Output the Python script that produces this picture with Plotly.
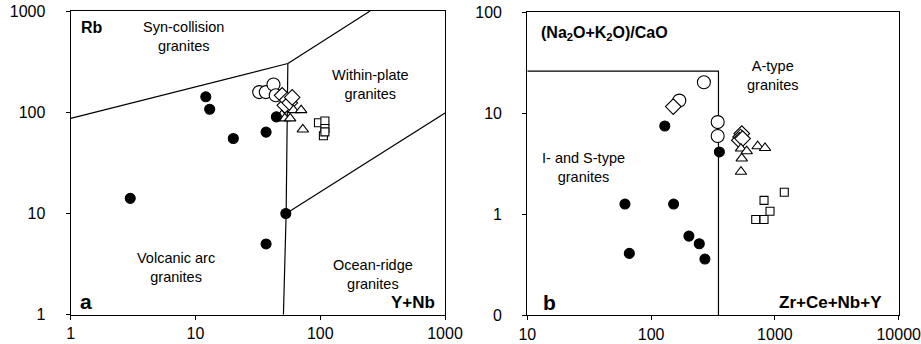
import plotly.graph_objects as go

# ---- Panel a: Rb vs Y+Nb ----
a_filled_x = [12.1, 13.0, 20.1, 36.8, 44.5, 3.0, 36.8, 53.0]
a_filled_y = [142, 107, 55, 63.6, 90, 14.1, 5.0, 10.0]
a_circle_x = [32.4, 36.6, 42.2, 44.0]
a_circle_y = [158, 158, 188, 147]
a_diamond_x = [49.5, 52.0, 54.3, 57.0, 59.6]
a_diamond_y = [147, 117, 132, 124, 140]
a_tri_x = [49.2, 52.0, 57.4, 61.0, 70.3, 72.5]
a_tri_y = [93.6, 86.9, 86.9, 105, 105, 67.6]
a_sq_x = [96.8, 109, 109, 106, 109]
a_sq_y = [78.6, 82, 69, 58.5, 64]

# discrimination boundaries (panel a)
a_b1_x = [1, 55]; a_b1_y = [87, 303]
a_b2_x = [55, 251]; a_b2_y = [303, 1000]
a_b3_x = [55, 53.3, 50.7]; a_b3_y = [303, 10, 1]
a_b4_x = [53.3, 1000]; a_b4_y = [10, 98]

# ---- Panel b: (Na2O+K2O)/CaO vs Zr+Ce+Nb+Y ----
b_filled_x = [129, 356, 61.5, 66.7, 152, 202, 245, 272]
b_filled_y = [7.45, 4.13, 1.26, 0.41, 1.26, 0.607, 0.51, 0.36]
b_circle_x = [267, 169, 345, 345]
b_circle_y = [20.2, 13.3, 8.15, 5.94]
b_diamond_x = [151, 540, 528, 516, 548]
b_diamond_y = [11.6, 6.27, 5.8, 5.39, 5.6]
b_tri_x = [532, 592, 726, 832, 540, 532]
b_tri_y = [4.46, 4.2, 4.7, 4.52, 3.56, 2.63]
b_sq_x = [700, 817, 817, 913, 1191]
b_sq_y = [0.885, 0.885, 1.37, 1.07, 1.65]

b_line_x = [10, 350, 350]; b_line_y = [26, 26, 0.1]

fig = go.Figure()

line_style = dict(color="black", width=1.2)


def add_lines(xs, ys, xa, ya):
    fig.add_trace(go.Scatter(x=xs, y=ys, mode="lines", line=line_style,
                             xaxis=xa, yaxis=ya, hoverinfo="skip"))


def add_markers(xs, ys, symbol, size, xa, ya, filled=False):
    marker = dict(symbol=symbol, size=size,
                  color="black" if filled else "white",
                  line=dict(color="black", width=1.1))
    fig.add_trace(go.Scatter(x=xs, y=ys, mode="markers", marker=marker,
                             xaxis=xa, yaxis=ya))


for bx, by in [(a_b1_x, a_b1_y), (a_b2_x, a_b2_y), (a_b3_x, a_b3_y), (a_b4_x, a_b4_y)]:
    add_lines(bx, by, "x", "y")
add_lines(b_line_x, b_line_y, "x2", "y2")

for xa, ya, fx, fy, cx, cy, dx, dy, tx, ty, sx, sy in [
    ("x", "y", a_filled_x, a_filled_y, a_circle_x, a_circle_y, a_diamond_x, a_diamond_y,
     a_tri_x, a_tri_y, a_sq_x, a_sq_y),
    ("x2", "y2", b_filled_x, b_filled_y, b_circle_x, b_circle_y, b_diamond_x, b_diamond_y,
     b_tri_x, b_tri_y, b_sq_x, b_sq_y),
]:
    add_markers(cx, cy, "circle", 13, xa, ya)
    add_markers(dx, dy, "diamond", 12, xa, ya)
    add_markers(tx, ty, "triangle-up", 10, xa, ya)
    add_markers(sx, sy, "square", 8, xa, ya)
    add_markers(fx, fy, "circle", 10, xa, ya, filled=True)

W, H = 921, 344
font_family = "Liberation Sans, Arial, sans-serif"

axis_common = dict(type="log", showgrid=False, zeroline=False, showline=True,
                   linecolor="black", linewidth=1.3, mirror=True,
                   ticks="outside", ticklen=4, tickcolor="black", tickwidth=1.2,
                   tickfont=dict(family=font_family, size=16, color="black"),
                   ticklabeloverflow="allow", automargin=False)
x_common = dict(axis_common, ticklabelstandoff=0)
y_common = dict(axis_common, ticklabelstandoff=17)

fig.update_layout(
    width=W, height=H, margin=dict(l=0, r=0, t=0, b=0),
    paper_bgcolor="white", plot_bgcolor="white", showlegend=False,
    font=dict(family=font_family, color="black"),
    xaxis=dict(x_common, domain=[70.7 / W, 445 / W], range=[0, 3],
               tickvals=[1, 10, 100, 1000], ticktext=["1", "10", "100", "1000"], anchor="y"),
    yaxis=dict(y_common, domain=[1 - 314.7 / H, 1 - 11 / H], range=[0, 3],
               tickvals=[1, 10, 100, 1000], ticktext=["1", "10", "100", "1000"], anchor="x"),
    xaxis2=dict(x_common, domain=[527.3 / W, 898.7 / W], range=[1, 4],
                tickvals=[10, 100, 1000, 10000], ticktext=["10", "100", "1000", "10000"], anchor="y2"),
    yaxis2=dict(y_common, domain=[1 - 315.3 / H, 1 - 12 / H], range=[-1, 2],
                tickvals=[0.1, 1, 10, 100], ticktext=["0", "1", "10", "100"], anchor="x2"),
)


def label(text, x, y, size=15, bold=False, xanchor="center", align="center"):
    t = f"<b>{text}</b>" if bold else text
    fig.add_annotation(text=t, x=x / W, y=1 - y / H, xref="paper", yref="paper",
                       showarrow=False, xanchor=xanchor, yanchor="middle", align=align,
                       font=dict(family=font_family, size=size, color="black"))


# panel a labels
label("Rb", 79, 27, size=16, bold=True, xanchor="left")
label("Syn-collision<br>granites", 183, 37, size=14.5)
label("Within-plate<br>granites", 370, 84, size=14.5)
label("Volcanic arc<br>granites", 176, 267, size=14.5)
label("Ocean-ridge<br>granites", 373, 274, size=14.5)
label("a", 78, 301, size=21, bold=True, xanchor="left")
label("Y+Nb", 437, 302, size=17, bold=True, xanchor="right")

# panel b labels
label("(Na<sub>2</sub>O+K<sub>2</sub>O)/CaO", 539, 34, size=16, bold=True, xanchor="left")
label("A-type<br>granites", 773, 76, size=14.5)
label("I- and S-type<br>granites", 583, 167, size=14.5)
label("b", 541, 302, size=21, bold=True, xanchor="left")
label("Zr+Ce+Nb+Y", 884, 302, size=17, bold=True, xanchor="right")

fig.write_html("out.html")
